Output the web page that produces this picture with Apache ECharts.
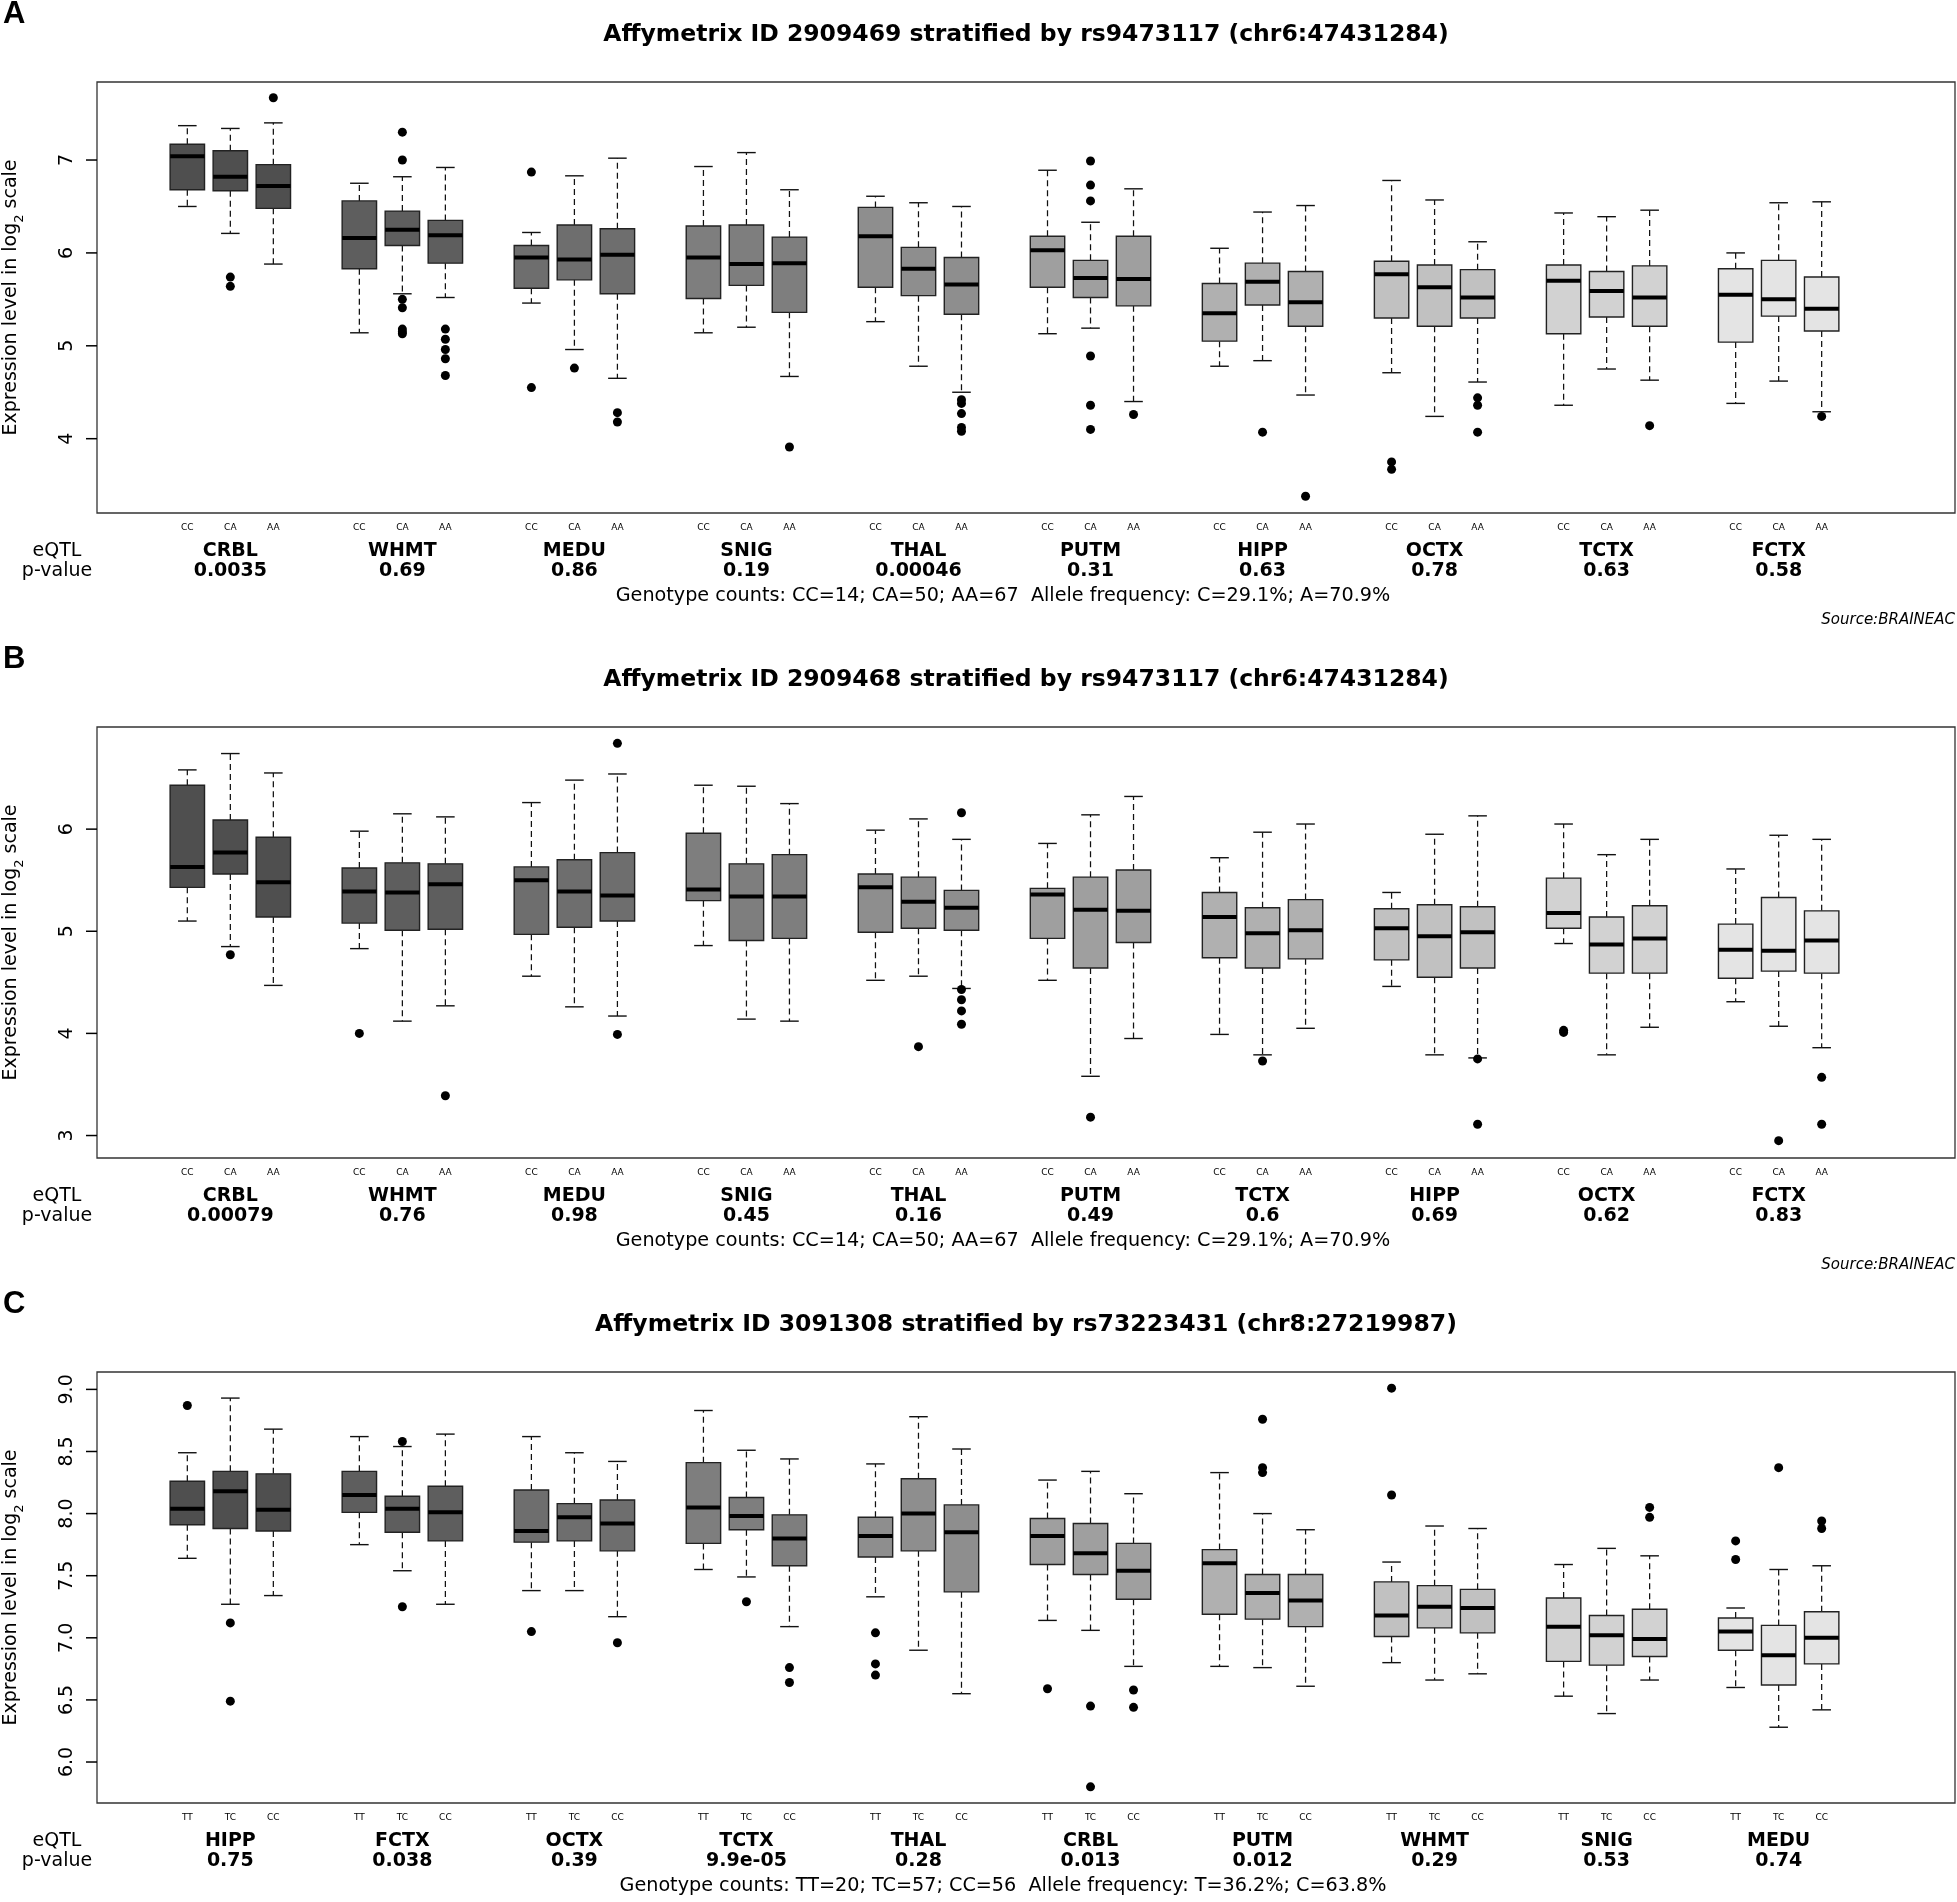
<!DOCTYPE html>
<html><head><meta charset="utf-8">
<script src="https://cdn.jsdelivr.net/npm/echarts@6/dist/echarts.min.js"></script>
<style>html,body{margin:0;padding:0;background:#fff}#c{width:1957px;height:1902px}</style>
</head><body><div id="c"></div>
<script>
// ---------- DATA ----------
const groupsA = ['CRBL','WHMT','MEDU','SNIG','THAL','PUTM','HIPP','OCTX','TCTX','FCTX'];
const pvalA = ['0.0035','0.69','0.86','0.19','0.00046','0.31','0.63','0.78','0.63','0.58'];
const genoA = ['CC','CA','AA'];
// [min, Q1, median, Q3, max] per box
const statsA = [
  [6.50,6.68,7.04,7.17,7.37],[6.21,6.67,6.82,7.10,7.34],[5.88,6.48,6.72,6.95,7.40],
  [5.14,5.83,6.16,6.56,6.75],[5.56,6.08,6.25,6.45,6.82],[5.52,5.89,6.19,6.35,6.92],
  [5.46,5.62,5.95,6.08,6.22],[4.96,5.71,5.93,6.30,6.83],[4.65,5.56,5.98,6.26,7.02],
  [5.14,5.51,5.95,6.29,6.93],[5.20,5.65,5.88,6.30,7.08],[4.67,5.36,5.89,6.17,6.68],
  [5.26,5.63,6.18,6.49,6.61],[4.78,5.54,5.83,6.06,6.54],[4.50,5.34,5.66,5.95,6.50],
  [5.13,5.63,6.03,6.18,6.89],[5.19,5.52,5.73,5.92,6.33],[4.40,5.43,5.72,6.18,6.69],
  [4.78,5.05,5.35,5.67,6.05],[4.84,5.44,5.69,5.89,6.44],[4.47,5.21,5.47,5.80,6.51],
  [4.71,5.30,5.77,5.91,6.78],[4.24,5.21,5.63,5.87,6.57],[4.61,5.30,5.52,5.82,6.12],
  [4.36,5.13,5.70,5.87,6.43],[4.75,5.31,5.59,5.80,6.39],[4.63,5.21,5.52,5.86,6.46],
  [4.38,5.04,5.55,5.83,6.00],[4.62,5.32,5.50,5.92,6.54],[4.29,5.16,5.40,5.74,6.55]
];
// [box index, value]
const outA = [
  [1,5.74],[1,5.64],[2,7.67],
  [4,7.30],[4,7.00],[4,5.50],[4,5.41],[4,5.18],[4,5.15],[4,5.13],
  [5,5.18],[5,5.07],[5,4.96],[5,4.86],[5,4.68],
  [6,6.87],[6,4.55],[7,4.76],[8,4.28],[8,4.18],[11,3.91],
  [14,4.42],[14,4.38],[14,4.27],[14,4.12],[14,4.08],
  [16,6.99],[16,6.73],[16,6.56],[16,4.89],[16,4.36],[16,4.10],[17,4.26],
  [19,4.07],[20,3.38],[21,3.75],[21,3.67],[23,4.44],[23,4.36],[23,4.07],
  [26,4.14],[29,4.24]
];
const yTicksA = [4,5,6,7];

const groupsB = ['CRBL','WHMT','MEDU','SNIG','THAL','PUTM','TCTX','HIPP','OCTX','FCTX'];
const pvalB = ['0.00079','0.76','0.98','0.45','0.16','0.49','0.6','0.69','0.62','0.83'];
const genoB = ['CC','CA','AA'];
const statsB = [
  [5.10,5.43,5.63,6.43,6.58],[4.85,5.56,5.77,6.09,6.74],[4.47,5.14,5.48,5.92,6.55],
  [4.83,5.08,5.39,5.62,5.98],[4.12,5.01,5.38,5.67,6.15],[4.27,5.02,5.46,5.66,6.12],
  [4.56,4.97,5.50,5.63,6.26],[4.26,5.04,5.39,5.70,6.48],[4.17,5.10,5.35,5.77,6.54],
  [4.86,5.30,5.41,5.96,6.43],[4.14,4.91,5.34,5.66,6.42],[4.12,4.93,5.34,5.75,6.25],
  [4.52,4.99,5.43,5.56,5.99],[4.56,5.03,5.29,5.53,6.10],[4.44,5.01,5.23,5.40,5.90],
  [4.52,4.93,5.36,5.42,5.86],[3.58,4.64,5.21,5.53,6.14],[3.95,4.89,5.20,5.60,6.32],
  [3.99,4.74,5.14,5.38,5.72],[3.79,4.64,4.98,5.23,5.97],[4.05,4.73,5.01,5.31,6.05],
  [4.46,4.72,5.03,5.22,5.38],[3.79,4.55,4.95,5.26,5.95],[3.76,4.64,4.99,5.24,6.13],
  [4.88,5.03,5.18,5.52,6.05],[3.79,4.59,4.87,5.14,5.75],[4.06,4.59,4.93,5.25,5.90],
  [4.31,4.54,4.82,5.07,5.61],[4.07,4.61,4.81,5.33,5.94],[3.86,4.59,4.91,5.20,5.90]
];
const outB = [
  [1,4.77],[3,4.00],[5,3.39],[8,6.84],[8,3.99],[13,3.87],
  [14,6.16],[14,4.43],[14,4.33],[14,4.22],[14,4.09],
  [16,3.18],[19,3.73],[23,3.75],[23,3.11],[24,4.03],[24,4.01],
  [28,2.95],[29,3.57],[29,3.11]
];
const yTicksB = [3,4,5,6];

const groupsC = ['HIPP','FCTX','OCTX','TCTX','THAL','CRBL','PUTM','WHMT','SNIG','MEDU'];
const pvalC = ['0.75','0.038','0.39','9.9e-05','0.28','0.013','0.012','0.29','0.53','0.74'];
const genoC = ['TT','TC','CC'];
const statsC = [
  [7.64,7.91,8.04,8.26,8.49],[7.27,7.88,8.18,8.34,8.93],[7.34,7.86,8.03,8.32,8.68],
  [7.75,8.01,8.15,8.34,8.62],[7.54,7.85,8.04,8.14,8.54],[7.27,7.78,8.01,8.22,8.64],
  [7.38,7.77,7.86,8.19,8.62],[7.38,7.78,7.97,8.08,8.49],[7.17,7.70,7.92,8.11,8.42],
  [7.55,7.76,8.05,8.41,8.83],[7.49,7.87,7.98,8.13,8.51],[7.09,7.58,7.80,7.99,8.44],
  [7.33,7.65,7.82,7.97,8.40],[6.90,7.70,8.00,8.28,8.78],[6.55,7.37,7.85,8.07,8.52],
  [7.14,7.59,7.82,7.96,8.27],[7.06,7.51,7.68,7.92,8.34],[6.77,7.31,7.54,7.76,8.16],
  [6.77,7.19,7.60,7.71,8.33],[6.76,7.15,7.36,7.51,8.00],[6.61,7.09,7.30,7.51,7.87],
  [6.80,7.01,7.18,7.45,7.61],[6.66,7.08,7.25,7.42,7.90],[6.71,7.04,7.24,7.39,7.88],
  [6.53,6.81,7.09,7.32,7.59],[6.39,6.78,7.02,7.18,7.72],[6.66,6.85,6.99,7.23,7.66],
  [6.60,6.90,7.05,7.16,7.24],[6.28,6.62,6.86,7.10,7.55],[6.42,6.79,7.00,7.21,7.58]
];
const outC = [
  [0,8.87],[1,7.12],[1,6.49],[4,8.58],[4,7.25],[6,7.05],[8,6.96],[10,7.29],
  [11,6.76],[11,6.64],[12,7.04],[12,6.79],[12,6.70],[15,6.59],[16,6.45],[16,5.80],
  [17,6.58],[17,6.44],[19,8.76],[19,8.37],[19,8.33],[21,9.01],[21,8.15],
  [26,8.05],[26,7.97],[27,7.78],[27,7.63],[28,8.37],[29,7.94],[29,7.88]
];
const yTicksC = [6.0,6.5,7.0,7.5,8.0,8.5,9.0];

const titles = [
  'Affymetrix ID 2909469 stratified by rs9473117 (chr6:47431284)',
  'Affymetrix ID 2909468 stratified by rs9473117 (chr6:47431284)',
  'Affymetrix ID 3091308 stratified by rs73223431 (chr8:27219987)'
];
const countsText = [
  'Genotype counts: CC=14; CA=50; AA=67  Allele frequency: C=29.1%; A=70.9%',
  'Genotype counts: CC=14; CA=50; AA=67  Allele frequency: C=29.1%; A=70.9%',
  'Genotype counts: TT=20; TC=57; CC=56  Allele frequency: T=36.2%; C=63.8%'
];
const panelLetters = ['A','B','C'];

// ---------- STYLE / LAYOUT ----------
const FONT = 'DejaVu Sans';
const boxGrays = ['#4f4f4f','#5e5e5e','#6e6e6e','#7e7e7e','#8e8e8e','#9f9f9f','#b0b0b0','#c1c1c1','#d2d2d2','#e4e4e4'];
const panels = [
  {groups:groupsA,pvals:pvalA,geno:genoA,stats:statsA,outs:outA,ticks:yTicksA,ymin:3.2,ymax:7.84,dec:0,top:82},
  {groups:groupsB,pvals:pvalB,geno:genoB,stats:statsB,outs:outB,ticks:yTicksB,ymin:2.78,ymax:7.0,dec:0,top:727},
  {groups:groupsC,pvals:pvalC,geno:genoC,stats:statsC,outs:outC,ticks:yTicksC,ymin:5.67,ymax:9.14,dec:1,top:1372}
];
const PLOT_L = 97, PLOT_R = 1955, PLOT_H = 431;
const XMIN = -1.1, XMAX = 42.1;
const TICK_LEN = 11;
const pos = i => Math.floor(i/3)*4 + (i%3) + 1;
const boxPositions = Array.from({length:30},(_,i)=>pos(i));
const groupCenters = Array.from({length:10},(_,g)=>g*4+2);

function renderBox(params, api) {
  const x = api.value(0);
  const g = api.value(6);
  const lo = api.coord([x, api.value(1)]);
  const q1 = api.coord([x, api.value(2)]);
  const md = api.coord([x, api.value(3)]);
  const q3 = api.coord([x, api.value(4)]);
  const hi = api.coord([x, api.value(5)]);
  const w = api.size([0.8, 0])[0];
  const cx = lo[0];
  const sw = w * 0.27;
  const dash = {stroke:'#111', lineWidth:1.25, lineDash:[6,4], fill:null};
  const solid = {stroke:'#111', lineWidth:1.4, fill:null};
  return {type:'group', children:[
    {type:'line', shape:{x1:cx,y1:q3[1],x2:cx,y2:hi[1]}, style:dash},
    {type:'line', shape:{x1:cx,y1:q1[1],x2:cx,y2:lo[1]}, style:dash},
    {type:'line', shape:{x1:cx-sw,y1:hi[1],x2:cx+sw,y2:hi[1]}, style:solid},
    {type:'line', shape:{x1:cx-sw,y1:lo[1],x2:cx+sw,y2:lo[1]}, style:solid},
    {type:'rect', shape:{x:cx-w/2,y:q3[1],width:w,height:q1[1]-q3[1]}, style:{fill:boxGrays[g], stroke:'#222', lineWidth:1.4}},
    {type:'line', shape:{x1:cx-w/2,y1:md[1],x2:cx+w/2,y2:md[1]}, style:{stroke:'#000', lineWidth:4}}
  ]};
}

const grid=[], xAxis=[], yAxis=[], series=[], graphic=[];
panels.forEach((p, k) => {
  grid.push({left:PLOT_L, width:PLOT_R-PLOT_L, top:p.top, height:PLOT_H, show:true, borderColor:'#333', borderWidth:1.3,
    backgroundColor:'#fff', containLabel:false, outerBoundsMode:'none'});
  // genotype label axis
  xAxis.push({type:'value', gridIndex:k, min:XMIN, max:XMAX, position:'bottom',
    axisLine:{show:false}, axisTick:{show:false}, splitLine:{show:false},
    axisLabel:{customValues:boxPositions, margin:10, fontFamily:FONT, fontSize:9, color:'#000', lineHeight:10,
      formatter:(v)=>p.geno[Math.round(v-1)%4]}});
  // group name + p-value axis
  xAxis.push({type:'value', gridIndex:k, min:XMIN, max:XMAX, position:'bottom',
    axisLine:{show:false}, axisTick:{show:false}, splitLine:{show:false},
    axisLabel:{customValues:groupCenters, margin:28, color:'#000',
      formatter:(v)=>{const g=Math.round((v-2)/4); return '{n|'+p.groups[g]+'}\n{n|'+p.pvals[g]+'}';},
      rich:{n:{fontFamily:FONT, fontWeight:'bold', fontSize:19, lineHeight:20, color:'#000'}}}});
  yAxis.push({type:'value', gridIndex:k, min:p.ymin, max:p.ymax,
    axisLine:{show:false, onZero:false}, splitLine:{show:false},
    axisTick:{show:false},
    axisLabel:{customValues:p.ticks, rotate:90, margin:20, fontFamily:FONT, fontSize:19, color:'#000',
      formatter:(v)=>Number(v).toFixed(p.dec)},
    name:'{a|Expression level in log}{b|2}{a| scale}', nameLocation:'middle', nameRotate:90, nameGap:75,
    nameTextStyle:{rich:{a:{fontFamily:FONT, fontSize:19, color:'#000', lineHeight:22},
      b:{fontFamily:FONT, fontSize:13, color:'#000', verticalAlign:'bottom', lineHeight:22, padding:[0,0,-4,0]}}}});
  series.push({type:'custom', xAxisIndex:2*k, yAxisIndex:k, renderItem:renderBox,
    encode:{x:0, y:[1,2,3,4,5]}, silent:true,
    data:p.stats.map((s,i)=>[pos(i), s[0], s[1], s[2], s[3], s[4], Math.floor(i/3)])});
  series.push({type:'scatter', xAxisIndex:2*k, yAxisIndex:k, symbol:'circle', symbolSize:9, silent:true,
    itemStyle:{color:'#000', opacity:1}, data:p.outs.map(([b,v])=>[pos(b), v])});

  const bottom = p.top + PLOT_H;
  graphic.push({type:'text', x:3, y:p.top-68, style:{text:panelLetters[k], font:'bold 31px "Liberation Sans"', fill:'#000', textAlign:'left', textVerticalAlign:'middle'}});
  graphic.push({type:'text', x:(PLOT_L+PLOT_R)/2, y:p.top-47, style:{text:titles[k], font:'bold 23.5px "'+FONT+'"', fill:'#000', textAlign:'center', textVerticalAlign:'middle'}});
  graphic.push({type:'text', x:57, y:bottom+38, style:{text:'eQTL', font:'19px "'+FONT+'"', fill:'#000', textAlign:'center', textVerticalAlign:'middle'}});
  graphic.push({type:'text', x:57, y:bottom+58, style:{text:'p-value', font:'19px "'+FONT+'"', fill:'#000', textAlign:'center', textVerticalAlign:'middle'}});
  graphic.push({type:'text', x:1003, y:bottom+83, style:{text:countsText[k], font:'19.2px "'+FONT+'"', fill:'#000', textAlign:'center', textVerticalAlign:'middle'}});
  graphic.push({type:'text', x:PLOT_R, y:bottom+107, style:{text:'Source:BRAINEAC', font:'italic 15px "'+FONT+'"', fill:'#000', textAlign:'right', textVerticalAlign:'middle'}});
});

const chart = echarts.init(document.getElementById('c'), null, {renderer:'canvas'});
chart.setOption({backgroundColor:'#fff', animation:false, grid, xAxis, yAxis, series, graphic});

// y-axis tick marks: positions obtained from each panel's own axis scale
const tickGraphics = [];
panels.forEach((p, k) => {
  p.ticks.forEach(t => {
    const pt = chart.convertToPixel({xAxisIndex:2*k, yAxisIndex:k}, [XMIN, t]);
    if (pt) {
      tickGraphics.push({type:'line', z:100, silent:true,
        shape:{x1:pt[0]-TICK_LEN, y1:pt[1], x2:pt[0], y2:pt[1]},
        style:{stroke:'#000', lineWidth:1.5}});
    }
  });
});
chart.setOption({graphic: graphic.concat(tickGraphics)});
</script></body></html>
